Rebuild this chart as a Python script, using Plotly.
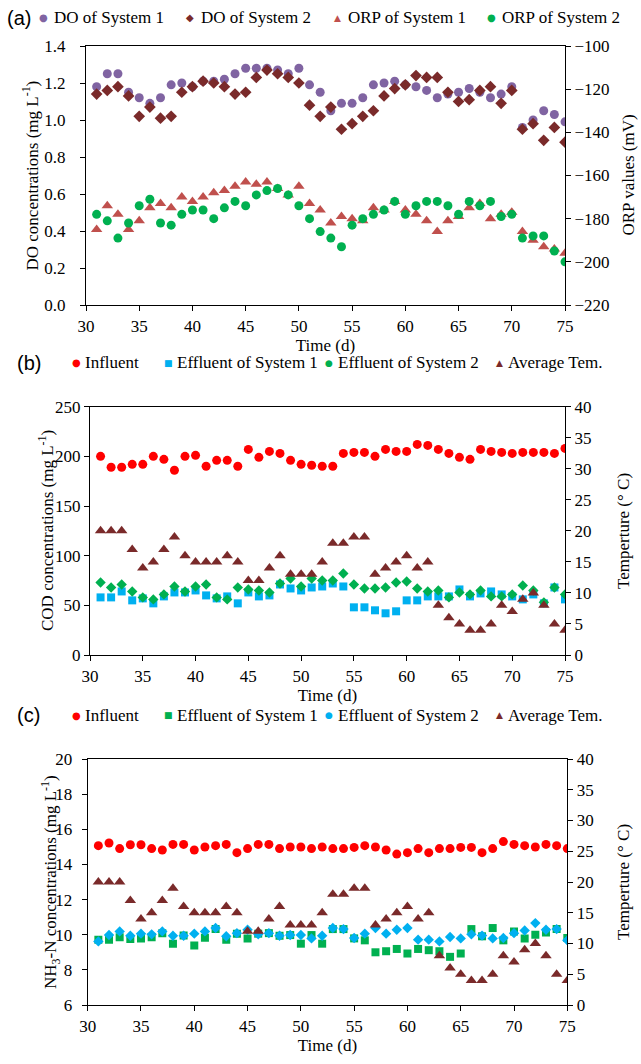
import plotly.graph_objects as go

# ---------------- data ----------------
days = [31, 32, 33, 34, 35, 36, 37, 38, 39, 40, 41, 42, 43, 44, 45,
        46, 47, 48, 49, 50, 51, 52, 53, 54, 55, 56, 57, 58, 59, 60,
        61, 62, 63, 64, 65, 66, 67, 68, 69, 70, 71, 72, 73, 74, 75]

# (a) DO (mg/L) and ORP (mV)
do_sys1 = [1.18, 1.25, 1.25, 1.15, 1.12, 1.09, 1.12, 1.19, 1.20, 1.18, 1.21, 1.21, 1.22, 1.25, 1.28,
           1.28, 1.28, 1.27, 1.25, 1.28, 1.19, 1.15, 1.05, 1.09, 1.09, 1.12, 1.19, 1.20, 1.21, 1.19,
           1.18, 1.16, 1.12, 1.14, 1.15, 1.17, 1.15, 1.12, 1.14, 1.18, 0.96, 1.00, 1.05, 1.03, 0.99]
do_sys2 = [1.14, 1.16, 1.18, 1.13, 1.02, 1.07, 1.01, 1.02, 1.15, 1.18, 1.21, 1.20, 1.18, 1.14, 1.15,
           1.23, 1.27, 1.25, 1.23, 1.20, 1.08, 1.02, 1.07, 0.95, 0.98, 1.02, 1.05, 1.13, 1.17, 1.19,
           1.24, 1.23, 1.23, 1.15, 1.10, 1.11, 1.16, 1.18, 1.09, 1.16, 0.95, 0.98, 0.89, 0.96, 0.88]
orp_sys1 = [-185, -174, -178, -185, -181, -175, -173, -175, -170, -172, -170, -168, -167, -165, -163,
            -164, -163, -166, -169, -165, -173, -176, -182, -179, -180, -181, -175, -176, -172, -176,
            -178, -181, -186, -181, -179, -175, -173, -180, -178, -177, -186, -190, -193, -194, -196]
orp_sys2 = [-178, -181, -189, -182, -174, -171, -182, -183, -178, -176, -176, -180, -175, -172, -174,
            -169, -167, -166, -169, -174, -180, -186, -189, -193, -183, -180, -178, -176, -172, -178,
            -174, -172, -172, -174, -178, -172, -174, -172, -179, -178, -189, -188, -188, -195, -200]

# (b) COD (mg/L)
cod_influent = [200, 189, 189, 192, 192, 200, 197, 186, 200, 201, 190, 196, 196, 190, 207,
                199, 205, 203, 196, 192, 191, 190, 190, 203, 204, 204, 200, 207, 205, 205,
                212, 211, 207, 203, 199, 197, 207, 205, 204, 203, 204, 204, 204, 203, 208]
cod_eff_sys1 = [58, 58, 64, 55, 57, 52, 59, 63, 63, 65, 60, 57, 59, 52, 63,
                59, 60, 71, 67, 65, 68, 69, 72, 69, 48, 48, 45, 42, 44, 55,
                55, 59, 59, 59, 66, 59, 62, 64, 61, 59, 56, 61, 52, 68, 56]
cod_eff_sys2 = [73, 68, 71, 64, 58, 56, 61, 69, 64, 69, 71, 58, 56, 68, 66,
                65, 63, 72, 77, 69, 77, 75, 75, 82, 71, 67, 67, 68, 73, 74,
                67, 64, 65, 58, 63, 61, 65, 59, 59, 61, 70, 65, 53, 68, 61]

# average temperature (deg C), shared by (b) and (c)
avg_temp = [20, 20, 20, 17, 14, 15, 17, 19, 16, 15, 15, 15, 16, 15, 12,
            12, 14, 16, 13, 13, 13, 15, 18, 18, 19, 19, 13, 14, 15, 16,
            14, 15, 8, 6, 5, 4, 4, 5, 8, 7, 9, 10, 8, 5, 4]

# (c) NH3-N (mg/L)
nh3_influent = [15.07, 15.22, 14.90, 15.12, 15.12, 14.90, 14.82, 15.14, 15.14, 14.82, 14.99, 15.07, 15.14, 14.67, 14.90,
                15.14, 15.14, 14.90, 14.99, 14.99, 14.90, 14.99, 14.90, 14.90, 14.97, 15.07, 14.99, 14.82, 14.59, 14.67,
                14.90, 14.67, 14.90, 14.90, 14.97, 14.97, 14.67, 14.90, 15.30, 15.14, 15.07, 14.99, 15.14, 15.07, 14.90]
nh3_eff_sys1 = [9.72, 9.72, 9.85, 9.76, 9.79, 9.85, 10.09, 9.49, 9.96, 9.38, 9.83, 10.32, 9.72, 10.06, 9.79,
                10.06, 10.09, 9.94, 9.98, 9.49, 9.98, 9.49, 10.32, 10.32, 9.79, 9.68, 9.00, 9.06, 9.19, 8.93,
                9.19, 9.12, 9.06, 8.74, 8.93, 10.32, 9.91, 10.38, 9.68, 10.19, 9.79, 10.00, 10.13, 10.32, 9.81]
nh3_eff_sys2 = [9.62, 9.98, 10.19, 9.94, 10.06, 10.02, 10.19, 9.94, 9.94, 10.06, 10.19, 10.38, 9.91, 10.09, 10.28,
                10.02, 10.09, 9.94, 9.98, 9.98, 9.79, 9.94, 10.38, 10.32, 9.81, 10.06, 10.38, 10.06, 10.28, 10.38,
                9.72, 9.72, 9.62, 9.87, 9.79, 10.02, 9.95, 9.79, 9.81, 10.09, 10.24, 10.66, 10.28, 10.32, 9.68]

x_ticks = [30, 35, 40, 45, 50, 55, 60, 65, 70, 75]

# ---------------- style ----------------
W, H = 641, 1064
SERIF = "Liberation Serif"
SANS = "Liberation Sans"
FS = 17
LFS = 17

PURPLE = "#8064A2"
BROWN = "#7A2A2A"
RED_T = "#C0504D"
GREEN = "#00B050"
RED = "#FF0000"
BLUE = "#00B0F0"


def fx(px):
    return px / W


def fy(py):
    return 1 - py / H


fig = go.Figure()


def add(y, name, color, symbol, size, xa, ya):
    fig.add_trace(go.Scatter(
        x=days, y=y, mode="markers", name=name, showlegend=False,
        marker=dict(color=color, symbol=symbol, size=size, line=dict(width=0)),
        xaxis=xa, yaxis=ya,
    ))


# panel (a)
add(do_sys1, "DO of System 1", PURPLE, "circle", 9, "x", "y")
add(do_sys2, "DO of System 2", BROWN, "diamond", 9, "x", "y")
add(orp_sys1, "ORP of System 1", RED_T, "triangle-up", 10, "x", "y2")
add(orp_sys2, "ORP of System 2", GREEN, "circle", 9, "x", "y2")

# panel (b)
add(cod_influent, "Influent", RED, "circle", 9, "x2", "y3")
add(cod_eff_sys1, "Effluent of System 1", BLUE, "square", 8, "x2", "y3")
add(cod_eff_sys2, "Effluent of System 2", GREEN, "diamond", 8, "x2", "y3")
add(avg_temp, "Average Tem.", BROWN, "triangle-up", 10, "x2", "y4")

# panel (c)
add(nh3_influent, "Influent", RED, "circle", 9, "x3", "y5")
add(nh3_eff_sys1, "Effluent of System 1", GREEN, "square", 8, "x3", "y5")
add(nh3_eff_sys2, "Effluent of System 2", BLUE, "diamond", 8, "x3", "y5")
add(avg_temp, "Average Tem.", BROWN, "triangle-up", 10, "x3", "y6")

font = dict(family=SERIF, size=FS, color="black")
axis_common = dict(showline=True, linecolor="black", linewidth=1.2, ticks="outside",
                   ticklen=5, tickcolor="black", tickwidth=1.2, showgrid=False,
                   zeroline=False, tickfont=font, automargin=False)


def xaxis(domain, anchor):
    return dict(axis_common, domain=domain, anchor=anchor, range=[30, 75],
                tickvals=x_ticks, mirror=True,
                title=dict(text="Time (d)", font=font, standoff=4))


def yleft(domain, anchor, rng, dtick, standoff, fmt=None):
    d = dict(axis_common, domain=domain, anchor=anchor, range=rng, dtick=dtick, tick0=rng[0],
             ticklabelstandoff=standoff)
    if fmt:
        d["tickformat"] = fmt
    return d


def yright(anchor, overlay, rng, dtick):
    return dict(axis_common, anchor=anchor, overlaying=overlay, side="right", range=rng,
                dtick=dtick, tick0=rng[0])


# pixel geometry of the three plot areas
xa_dom = [fx(86), fx(565)]
ya_dom = [fy(305), fy(46)]
xb_dom = [fx(90), fx(565)]
yb_dom = [fy(655), fy(406.7)]
xc_dom = [fx(87.7), fx(567.3)]
yc_dom = [fy(1005), fy(759)]

annotations = []


def text(t, x, y, size=FS, family=SERIF, xanchor="left", angle=0):
    annotations.append(dict(text=t, x=fx(x), y=fy(y), xref="paper", yref="paper",
                            xanchor=xanchor, yanchor="middle", showarrow=False, textangle=angle,
                            font=dict(family=family, size=size, color="black")))


def key(glyph, color, x, y, size=10):
    annotations.append(dict(text=glyph, x=fx(x), y=fy(y), xref="paper", yref="paper",
                            xanchor="center", yanchor="middle", showarrow=False,
                            font=dict(family="DejaVu Sans", size=size, color=color)))


# legend rows (glyph + label)
row_a = 18
text("(a)", 5, row_a, size=20, family=SANS)
key("●", PURPLE, 43, row_a); text("DO of System 1", 52, row_a, LFS)
key("◆", BROWN, 190, row_a); text("DO of System 2", 199, row_a, LFS)
key("▲", RED_T, 337, row_a, 9); text("ORP of System 1", 346, row_a, LFS)
key("●", GREEN, 491, row_a); text("ORP of System 2", 500, row_a, LFS)

for row, lab, c_e1, c_e2 in [(362.5, "(b)", BLUE, GREEN), (715, "(c)", GREEN, BLUE)]:
    text(lab, 15, row, size=20, family=SANS)
    key("●", RED, 76, row); text("Influent", 83, row, LFS)
    key("■", c_e1, 168, row, 9); text("Effluent of System 1", 175, row, LFS)
    key("●", c_e2, 329, row, 9); text("Effluent of System 2", 336, row, LFS)
    key("▲", BROWN, 499, row, 9); text("Average Tem.", 506, row, LFS)

# y-axis titles
text("DO concentrations (mg L<sup>-1</sup>)", 30, 175.5, xanchor="center", angle=-90)
text("ORP values (mV)", 628, 175.5, xanchor="center", angle=-90)
text("COD concentrations (mg L<sup>-1</sup>)", 46, 531, xanchor="center", angle=-90)
text("Temperture (° C)", 623, 531, xanchor="center", angle=-90)
text("NH<sub>3</sub>-N concentrations (mg L<sup>-1</sup>)", 50, 882, xanchor="center", angle=-90)
text("Temperture (° C)", 623, 882, xanchor="center", angle=-90)

fig.update_layout(
    width=W, height=H,
    margin=dict(l=0, r=0, t=0, b=0),
    paper_bgcolor="white", plot_bgcolor="white",
    font=font,
    showlegend=False,
    hovermode=False,
    xaxis=xaxis(xa_dom, "y"),
    yaxis=yleft(ya_dom, "x", [0, 1.4], 0.2, 11, ".1f"),
    yaxis2=yright("x", "y", [-220, -100], 20),
    xaxis2=xaxis(xb_dom, "y3"),
    yaxis3=yleft(yb_dom, "x2", [0, 250], 50, 0),
    yaxis4=yright("x2", "y3", [0, 40], 5),
    xaxis3=xaxis(xc_dom, "y5"),
    yaxis5=yleft(yc_dom, "x3", [6, 20], 2, 6),
    yaxis6=yright("x3", "y5", [0, 40], 5),
    annotations=annotations,
)

fig.write_html("out.html", config={"displayModeBar": False},
               post_script="document.body.style.margin='0px';")
